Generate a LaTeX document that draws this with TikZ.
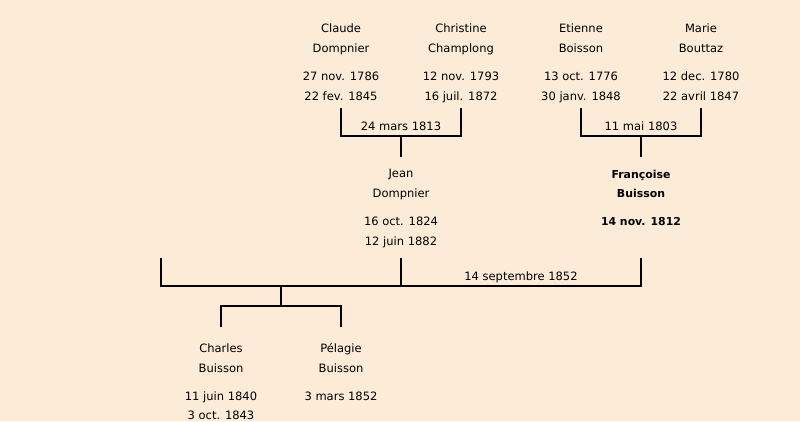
\documentclass[tikz,border=0pt]{standalone}
\usepackage{fontspec}
\setmainfont{DejaVu Sans}
\definecolor{bgcol}{RGB}{251,235,215}
\newcommand{\pline}[3]{\node[txt] (#1) at (#2) {#3};}
\begin{document}
\begin{tikzpicture}[x=1pt,y=-1pt,
  txt/.style={font=\fontsize{11.5}{13}\selectfont, inner sep=0pt, anchor=base},
  btxt/.style={txt, font=\fontsize{10.9}{13}\selectfont\bfseries},
  link/.style={line width=2pt, line join=miter}]
\fill[bgcol] (0,0) rectangle (800,421);
\useasboundingbox (0,0) rectangle (800,421);
% grandparents Dompnier
\pline{cla1}{341,32.5}{Claude}
\pline{cla2}{341,52}{Dompnier}
\pline{cla3}{341,80.5}{27 nov. 1786}
\pline{cla4}{341,100.5}{22 fev. 1845}
\pline{chr1}{461,32.5}{Christine}
\pline{chr2}{461,52}{Champlong}
\pline{chr3}{461,80.5}{12 nov. 1793}
\pline{chr4}{461,100.5}{16 juil. 1872}
% grandparents Boisson
\pline{eti1}{581,32.5}{Etienne}
\pline{eti2}{581,52}{Boisson}
\pline{eti3}{581,80.5}{13 oct. 1776}
\pline{eti4}{581,100.5}{30 janv. 1848}
\pline{mar1}{701,32.5}{Marie}
\pline{mar2}{701,52}{Bouttaz}
\pline{mar3}{701,80.5}{12 dec. 1780}
\pline{mar4}{701,100.5}{22 avril 1847}
% marriage labels
\pline{m1lab}{401,130.5}{24 mars 1813}
\pline{m2lab}{641,130.5}{11 mai 1803}
% parents
\pline{jea1}{401,177.5}{Jean}
\pline{jea2}{401,197.3}{Dompnier}
\pline{jea3}{401,225}{16 oct. 1824}
\pline{jea4}{401,245}{12 juin 1882}
\node[btxt] (fra1) at (641,178) {Françoise};
\node[btxt] (fra2) at (641,197.7) {Buisson};
\node[btxt] (fra3) at (641,225) {14 nov. 1812};
\pline{m3lab}{521,280}{14 septembre 1852}
% children
\pline{cha1}{221,352.3}{Charles}
\pline{cha2}{221,372.5}{Buisson}
\pline{cha3}{221,400}{11 juin 1840}
\pline{cha4}{221,419.5}{3 oct. 1843}
\pline{pel1}{341,352.3}{Pélagie}
\pline{pel2}{341,372.5}{Buisson}
\pline{pel3}{341,400}{3 mars 1852}
% bracket coordinates
\coordinate (m1a) at (341,108);
\coordinate (m1b) at (461,108);
\coordinate (m1h) at (401,135.7);
\coordinate (m1s) at (401,157);
\coordinate (m2a) at (581,108);
\coordinate (m2b) at (701,108);
\coordinate (m2h) at (641,135.7);
\coordinate (m2s) at (641,157);
\coordinate (m3a) at (161,258);
\coordinate (m3j) at (401,258);
\coordinate (m3f) at (641,258);
\coordinate (m3jh) at (401,285.7);
\coordinate (m3fh) at (641,285.7);
\coordinate (m3c) at (281,285.7);
\coordinate (c1) at (221,326.5);
\coordinate (c2) at (341,326.5);
\coordinate (ch) at (281,305.7);
% connectors
\draw[link] (m1a) |- (m1h) -| (m1b);
\draw[link] (m1h) -- (m1s);
\draw[link] (m2a) |- (m2h) -| (m2b);
\draw[link] (m2h) -- (m2s);
\draw[link] (m3a) |- (m3fh) -- (m3f);
\draw[link] (m3j) -- (m3jh);
\draw[link] (m3c) -- (ch);
\draw[link] (c1) |- (ch) -| (c2);
\end{tikzpicture}
\end{document}
